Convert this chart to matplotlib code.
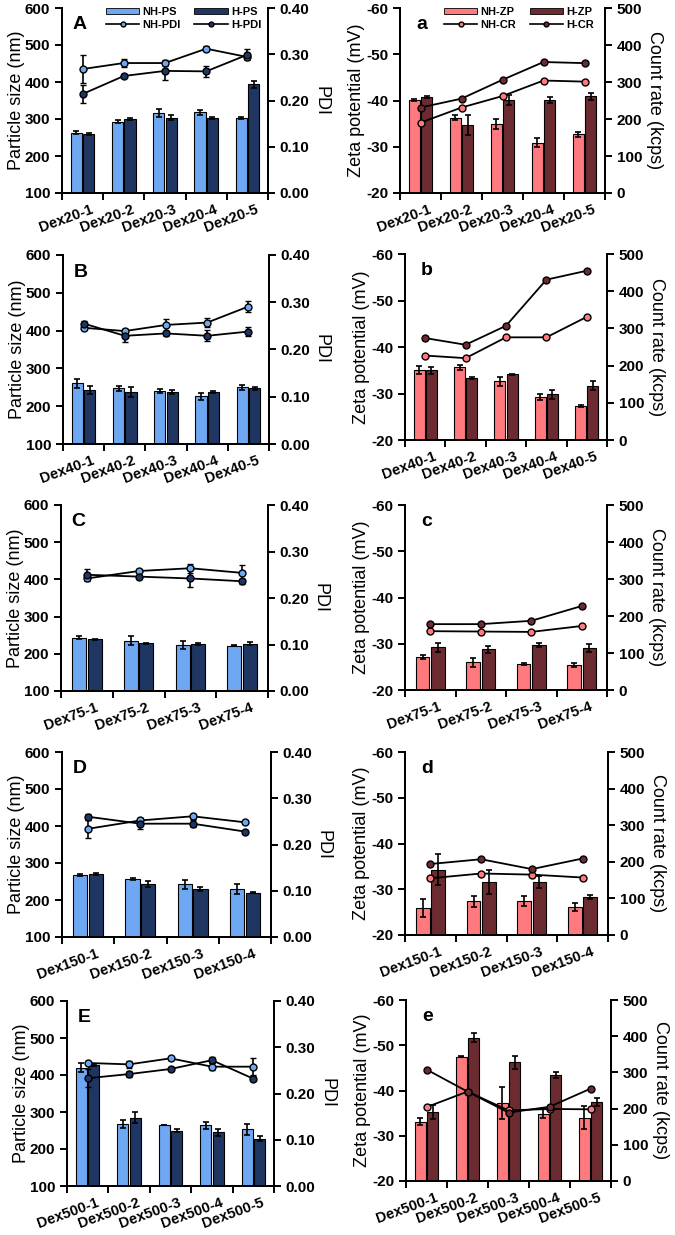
import numpy as np
import matplotlib
matplotlib.use("Agg")
import matplotlib.pyplot as plt
from matplotlib.lines import Line2D
from matplotlib.patches import Patch
import matplotlib.transforms as mtransforms

plt.rcParams['font.family'] = ['Liberation Sans', 'DejaVu Sans']

# ---------------- data ----------------
cats_A = ['Dex20-1', 'Dex20-2', 'Dex20-3', 'Dex20-4', 'Dex20-5']
A_nh_ps = [263, 293, 316, 318, 302]
A_nh_ps_err = [4, 3, 10, 7, 3]
A_h_ps = [259, 300, 304, 302, 394]
A_h_ps_err = [2, 2, 8, 3, 10]
A_nh_pdi = [0.268, 0.281, 0.281, 0.312, 0.294]
A_nh_pdi_err = [0.03, 0.008, 0.006, 0.005, 0.005]
A_h_pdi = [0.214, 0.253, 0.264, 0.263, 0.299]
A_h_pdi_err = [0.02, 0.005, 0.02, 0.012, 0.012]

a_nh_zp = [-40.1, -36.3, -34.9, -30.9, -32.7]
a_nh_zp_err = [0.2, 0.6, 1.0, 1.0, 0.5]
a_h_zp = [-40.7, -34.7, -40.1, -40.1, -40.9]
a_h_zp_err = [0.2, 2.2, 1.0, 0.6, 0.7]
a_nh_cr = [190, 231, 262, 304, 301]
a_h_cr = [231, 255, 306, 354, 351]

cats_B = ['Dex40-1', 'Dex40-2', 'Dex40-3', 'Dex40-4', 'Dex40-5']
B_nh_ps = [261, 247, 240, 226, 250]
B_nh_ps_err = [12, 6, 5, 10, 7]
B_h_ps = [243, 238, 238, 237, 248]
B_h_ps_err = [11, 13, 5, 2, 4]
B_nh_pdi = [0.246, 0.239, 0.252, 0.257, 0.291]
B_nh_pdi_err = [0.004, 0.005, 0.012, 0.010, 0.012]
B_h_pdi = [0.255, 0.229, 0.234, 0.229, 0.238]
B_h_pdi_err = [0.005, 0.014, 0.006, 0.012, 0.010]

b_nh_zp = [-35.1, -35.6, -32.6, -29.2, -27.4]
b_nh_zp_err = [0.9, 0.6, 1.0, 0.6, 0.2]
b_h_zp = [-35.0, -33.4, -34.1, -29.8, -31.7]
b_h_zp_err = [0.7, 0.2, 0.1, 0.9, 0.9]
b_nh_cr = [227, 220, 276, 276, 331]
b_h_cr = [274, 256, 307, 431, 455]

cats_C = ['Dex75-1', 'Dex75-2', 'Dex75-3', 'Dex75-4']
C_nh_ps = [243, 235, 223, 222]
C_nh_ps_err = [4, 12, 11, 2]
C_h_ps = [239, 228, 226, 227]
C_h_ps_err = [1, 1, 2, 4]
C_nh_pdi = [0.242, 0.258, 0.264, 0.254]
C_nh_pdi_err = [0.005, 0.005, 0.010, 0.018]
C_h_pdi = [0.250, 0.246, 0.242, 0.236]
C_h_pdi_err = [0.012, 0.004, 0.018, 0.005]

c_nh_zp = [-27.1, -26.0, -25.7, -25.4]
c_nh_zp_err = [0.5, 1.0, 0.2, 0.5]
c_h_zp = [-29.2, -28.8, -29.7, -29.1]
c_h_zp_err = [0.9, 0.7, 0.4, 0.9]
c_nh_cr = [159, 158, 157, 173]
c_h_cr = [178, 178, 187, 227]

cats_D = ['Dex150-1', 'Dex150-2', 'Dex150-3', 'Dex150-4']
D_nh_ps = [267, 256, 243, 230]
D_nh_ps_err = [3, 3, 12, 14]
D_h_ps = [271, 243, 229, 220]
D_h_ps_err = [3, 8, 6, 2]
D_nh_pdi = [0.234, 0.252, 0.261, 0.248]
D_nh_pdi_err = [0.020, 0.005, 0.005, 0.003]
D_h_pdi = [0.260, 0.245, 0.245, 0.228]
D_h_pdi_err = [0.007, 0.012, 0.007, 0.004]

d_nh_zp = [-25.9, -27.4, -27.5, -26.1]
d_nh_zp_err = [2.0, 1.2, 1.1, 0.8]
d_h_zp = [-34.3, -31.6, -31.6, -28.3]
d_h_zp_err = [3.4, 2.6, 1.4, 0.5]
d_nh_cr = [155, 168, 165, 157]
d_h_cr = [194, 207, 180, 209]

cats_E = ['Dex500-1', 'Dex500-2', 'Dex500-3', 'Dex500-4', 'Dex500-5']
E_nh_ps = [420, 268, 265, 264, 253]
E_nh_ps_err = [12, 10, 1, 10, 14]
E_h_ps = [427, 285, 250, 245, 228]
E_h_ps_err = [4, 14, 3, 9, 7]
E_nh_pdi = [0.266, 0.263, 0.276, 0.258, 0.258]
E_nh_pdi_err = [0.003, 0.007, 0.003, 0.007, 0.018]
E_h_pdi = [0.233, 0.242, 0.253, 0.272, 0.232]
E_h_pdi_err = [0.020, 0.007, 0.004, 0.006, 0.005]

e_nh_zp = [-33.1, -47.5, -37.2, -34.9, -34.0]
e_nh_zp_err = [0.8, 0.2, 3.5, 1.0, 2.5]
e_h_zp = [-35.2, -51.7, -46.2, -43.4, -37.4]
e_h_zp_err = [1.5, 1.0, 1.5, 0.6, 0.9]
e_nh_cr = [204, 247, 195, 199, 198]
e_h_cr = [308, 247, 189, 205, 255]

ps_ticks = [100, 200, 300, 400, 500, 600]
pdi_ticks = [0.0, 0.1, 0.2, 0.3, 0.4]
zp_ticks = [-20, -30, -40, -50, -60]
cr_ticks = [0, 100, 200, 300, 400, 500]

# ---------------- style ----------------
C_NH_PS = '#6FA8F2'
C_H_PS = '#1F3662'
C_NH_ZP = '#FF7A7E'
C_H_ZP = '#6B2B30'

W, H = 675, 1235
fig = plt.figure(figsize=(W / 100, H / 100), dpi=100)

TICK_FS = 11
XTICK_FS = 10.5
LAB_FS = 13
BW = 0.27
OFF = 0.15


def make_axes(l, r, t, b):
    return fig.add_axes([l / W, 1 - b / H, (r - l) / W, (b - t) / H])


def style_axes(ax, ax2, n, cats):
    for a in (ax, ax2):
        a.spines['top'].set_visible(False)
        for s in ('left', 'right', 'bottom'):
            a.spines[s].set_linewidth(1.4)
        a.tick_params(axis='y', direction='out', length=5, width=1.4,
                      labelsize=TICK_FS)
        for lab in a.get_yticklabels():
            lab.set_fontweight('bold')
    ax.set_xlim(0, n)
    ax.set_xticks(np.arange(n) + 0.5)
    ax.set_xticklabels(cats, rotation=20, ha='right', va='top',
                       rotation_mode='anchor', fontsize=XTICK_FS,
                       fontweight='bold')
    ax.set_xticks(np.arange(n + 1), minor=True)
    ax.tick_params(axis='x', which='major', length=0, pad=7)
    ax.tick_params(axis='x', which='minor', length=5, width=1.4, direction='out')
    offset = mtransforms.ScaledTranslation(8 / 100, 0, fig.dpi_scale_trans)
    for lab in ax.get_xticklabels():
        lab.set_transform(lab.get_transform() + offset)


def ps_panel(rect, letter, cats, nh, nhe, h, he, nhp, nhpe, hp, hpe, legend=False):
    ax = make_axes(*rect)
    n = len(cats)
    x = np.arange(n) + 0.5
    ekw = dict(ecolor='black', elinewidth=1.2, capsize=2.5, capthick=1.2)
    ax.bar(x - OFF, np.array(nh) - 100, BW, bottom=100, color=C_NH_PS,
           edgecolor='black', linewidth=0.8, yerr=nhe, error_kw=ekw)
    ax.bar(x + OFF, np.array(h) - 100, BW, bottom=100, color=C_H_PS,
           edgecolor='black', linewidth=0.8, yerr=he, error_kw=ekw)
    ax.set_ylim(100, 600)
    ax.set_yticks(ps_ticks)
    ax.set_yticklabels([str(v) for v in ps_ticks])
    ax.set_ylabel('Particle size (nm)', fontsize=LAB_FS, labelpad=0)
    ax2 = ax.twinx()
    ax2.errorbar(x, nhp, yerr=nhpe, color='black', lw=1.3, marker='o', ms=5,
                 mfc=C_NH_PS, mec='black', mew=1.0, capsize=2.5, elinewidth=1.2)
    ax2.errorbar(x, hp, yerr=hpe, color='black', lw=1.3, marker='o', ms=5,
                 mfc=C_H_PS, mec='black', mew=1.0, capsize=2.5, elinewidth=1.2)
    ax2.set_ylim(0, 0.4)
    ax2.set_yticks(pdi_ticks)
    ax2.set_yticklabels([f'{v:.2f}' for v in pdi_ticks])
    ax2.set_ylabel('PDI', fontsize=LAB_FS, rotation=270, labelpad=14)
    style_axes(ax, ax2, n, cats)
    ax.text(0.05, 0.91, letter, transform=ax.transAxes, fontsize=14,
            fontweight='bold', va='center', ha='left')
    if legend:
        handles = [Patch(facecolor=C_NH_PS, edgecolor='black', lw=0.6),
                   Line2D([], [], color='black', lw=1.2, marker='o', ms=3.5,
                          mfc=C_NH_PS, mec='black'),
                   Patch(facecolor=C_H_PS, edgecolor='black', lw=0.6),
                   Line2D([], [], color='black', lw=1.2, marker='o', ms=3.5,
                          mfc=C_H_PS, mec='black')]
        labels = ['NH-PS', 'NH-PDI', 'H-PS', 'H-PDI']
        ax2.legend(handles, labels, ncol=2, frameon=False, loc='upper right',
                   bbox_to_anchor=(1.0, 1.04), prop=dict(size=8, weight='bold'),
                   handlelength=3.0, handleheight=0.5, handletextpad=0.3,
                   columnspacing=1.2, labelspacing=0.25, borderpad=0.1)
    return ax, ax2


def zp_panel(rect, letter, cats, nh, nhe, h, he, nhc, hc, legend=False):
    ax = make_axes(*rect)
    n = len(cats)
    x = np.arange(n) + 0.5
    ekw = dict(ecolor='black', elinewidth=1.2, capsize=2.5, capthick=1.2)
    ax.bar(x - OFF, np.array(nh) + 20, BW, bottom=-20, color=C_NH_ZP,
           edgecolor='black', linewidth=0.8, yerr=nhe, error_kw=ekw)
    ax.bar(x + OFF, np.array(h) + 20, BW, bottom=-20, color=C_H_ZP,
           edgecolor='black', linewidth=0.8, yerr=he, error_kw=ekw)
    ax.set_ylim(-20, -60)
    ax.set_yticks(zp_ticks)
    ax.set_yticklabels([str(v) for v in zp_ticks])
    ax.set_ylabel('Zeta potential (mV)', fontsize=LAB_FS, labelpad=1)
    ax2 = ax.twinx()
    ax2.plot(x, nhc, color='black', lw=1.3, marker='o', ms=5, mfc=C_NH_ZP,
             mec='black', mew=1.0)
    ax2.plot(x, hc, color='black', lw=1.3, marker='o', ms=5, mfc=C_H_ZP,
             mec='black', mew=1.0)
    ax2.set_ylim(0, 500)
    ax2.set_yticks(cr_ticks)
    ax2.set_yticklabels([str(v) for v in cr_ticks])
    ax2.set_ylabel('Count rate (kcps)', fontsize=LAB_FS, rotation=270,
                   labelpad=15)
    style_axes(ax, ax2, n, cats)
    ax.text(0.08, 0.91, letter, transform=ax.transAxes, fontsize=14,
            fontweight='bold', va='center', ha='left')
    if legend:
        handles = [Patch(facecolor=C_NH_ZP, edgecolor='black', lw=0.6),
                   Line2D([], [], color='black', lw=1.2, marker='o', ms=3.5,
                          mfc=C_NH_ZP, mec='black'),
                   Patch(facecolor=C_H_ZP, edgecolor='black', lw=0.6),
                   Line2D([], [], color='black', lw=1.2, marker='o', ms=3.5,
                          mfc=C_H_ZP, mec='black')]
        labels = ['NH-ZP', 'NH-CR', 'H-ZP', 'H-CR']
        ax2.legend(handles, labels, ncol=2, frameon=False, loc='upper right',
                   bbox_to_anchor=(0.98, 1.04), prop=dict(size=8, weight='bold'),
                   handlelength=3.0, handleheight=0.5, handletextpad=0.3,
                   columnspacing=1.2, labelspacing=0.25, borderpad=0.1)
    return ax, ax2


ps_panel((62, 268, 8, 193), 'A', cats_A, A_nh_ps, A_nh_ps_err, A_h_ps, A_h_ps_err,
         A_nh_pdi, A_nh_pdi_err, A_h_pdi, A_h_pdi_err, legend=True)
zp_panel((400, 605, 8, 193), 'a', cats_A, a_nh_zp, a_nh_zp_err, a_h_zp, a_h_zp_err,
         a_nh_cr, a_h_cr, legend=True)

ps_panel((63, 269, 255, 444), 'B', cats_B, B_nh_ps, B_nh_ps_err, B_h_ps, B_h_ps_err,
         B_nh_pdi, B_nh_pdi_err, B_h_pdi, B_h_pdi_err)
zp_panel((405, 607, 254, 440), 'b', cats_B, b_nh_zp, b_nh_zp_err, b_h_zp, b_h_zp_err,
         b_nh_cr, b_h_cr)

ps_panel((61, 268, 505, 691), 'C', cats_C, C_nh_ps, C_nh_ps_err, C_h_ps, C_h_ps_err,
         C_nh_pdi, C_nh_pdi_err, C_h_pdi, C_h_pdi_err)
zp_panel((405, 607, 505, 690), 'c', cats_C, c_nh_zp, c_nh_zp_err, c_h_zp, c_h_zp_err,
         c_nh_cr, c_h_cr)

ps_panel((62, 271, 752, 937), 'D', cats_D, D_nh_ps, D_nh_ps_err, D_h_ps, D_h_ps_err,
         D_nh_pdi, D_nh_pdi_err, D_h_pdi, D_h_pdi_err)
zp_panel((405, 608, 752, 935), 'd', cats_D, d_nh_zp, d_nh_zp_err, d_h_zp, d_h_zp_err,
         d_nh_cr, d_h_cr)

ps_panel((67, 274, 1001, 1186), 'E', cats_E, E_nh_ps, E_nh_ps_err, E_h_ps, E_h_ps_err,
         E_nh_pdi, E_nh_pdi_err, E_h_pdi, E_h_pdi_err)
zp_panel((406, 611, 1000, 1181), 'e', cats_E, e_nh_zp, e_nh_zp_err, e_h_zp, e_h_zp_err,
         e_nh_cr, e_h_cr)

fig.savefig('out.png', dpi=100)
